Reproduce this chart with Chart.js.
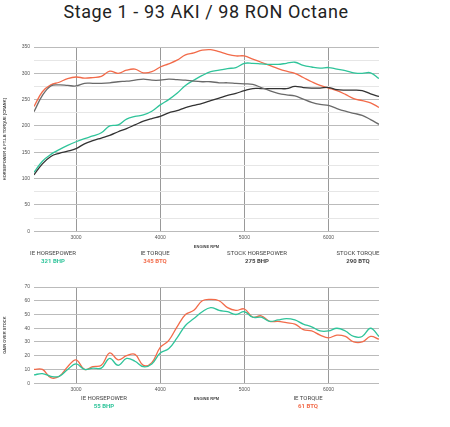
<!DOCTYPE html>
<html><head><meta charset="utf-8">
<script src="https://cdn.jsdelivr.net/npm/chart.js@4"></script>
<style>
body{margin:0;width:450px;height:427px;background:#fff;font-family:Roboto,sans-serif;position:relative;overflow:hidden}
#title{position:absolute;top:1px;left:0;width:412px;text-align:center;font-size:18px;color:#222;letter-spacing:0.6px}
.c{position:absolute;left:0;width:390px}
.lg{position:absolute;font-size:6px;color:#444;text-align:center;width:100px;line-height:8px}
.lg b{display:block;font-size:6px}
</style></head><body>
<div id="title">Stage 1 - 93 AKI / 98 RON Octane</div>
<div class="c" style="top:40px;height:210px"><canvas id="top"></canvas></div>
<div class="c" style="top:280px;height:122px"><canvas id="bot"></canvas></div>
<div class="lg" style="left:3px;top:249px">IE HORSEPOWER<b style="color:#2fc49a">321 BHP</b></div>
<div class="lg" style="left:105px;top:249px">IE TORQUE<b style="color:#f26b4a">345 BTQ</b></div>
<div class="lg" style="left:207px;top:249px">STOCK HORSEPOWER<b style="color:#444">275 BHP</b></div>
<div class="lg" style="left:308px;top:249px">STOCK TORQUE<b style="color:#444">290 BTQ</b></div>
<div class="lg" style="left:54px;top:394px">IE HORSEPOWER<b style="color:#2fc49a">55 BHP</b></div>
<div class="lg" style="left:258px;top:394px">IE TORQUE<b style="color:#f26b4a">61 BTQ</b></div>
<script>
const rpm = []
for (let r = 2500; r <= 6600; r += 100) rpm.push(r)

const ieTorque = [237,265,278,283,290,293,291,292,294,304,300,306,308,301,303,312,318,325,335,339,344,345,341,336,333,333,327,321,315,309,304,300,292,284,277,272,267,260,252,248,244,235]
const ieHp = [112,133,146,155,163,170,176,181,187,200,202,213,218,221,228,240,250,262,277,287,296,303,306,309,311,319,319,318,317,317,319,321,315,312,310,311,308,305,301,300,301,290]
const stockTorque = [227,258,276,278,277,276,281,281,281,282,284,285,287,289,287,287,289,288,287,285,284,284,282,282,281,280,279,273,267,262,259,257,251,245,241,239,233,228,224,220,212,203]
const stockHp = [107,128,142,148,152,157,166,172,177,182,189,195,202,209,214,218,225,229,235,239,243,248,253,258,262,267,271,271,271,271,271,275,273,272,272,273,269,268,268,267,261,256]
const gainHp = [6,7,5,5,10,14,10,11,11,18,13,18,16,12,14,22,25,33,42,47,52,55,53,52,50,52,48,48,45,46,47,46,43,41,38,38,40,38,34,34,40,34]
const gainTq = [10,10,4,5,12,17,10,12,13,22,17,20,21,13,15,26,31,41,50,53,60,61,60,55,53,54,48,49,45,45,44,43,39,38,35,33,35,34,30,30,34,32]
const xTicks = [3000,4000,5000,6000]

const pts = arr => arr.map((v, i) => ({x: rpm[i], y: v}))
const line = (data, color) => ({data: pts(data), borderColor: color, borderWidth: 1.3, pointRadius: 0, tension: 0.4, fill: false})

function makeChart(id, sets, yMax, yTitle){
  return new Chart(document.getElementById(id), {
    type: 'line',
    data: {datasets: sets},
    options: {
      animation: false, responsive: true, maintainAspectRatio: false,
      layout: {padding: {top: 4, right: 11, left: 0, bottom: 0}},
      plugins: {legend: {display: false}, tooltip: {enabled: false}},
      scales: {
        x: {
          type: 'linear', min: 2500, max: 6600,
          afterBuildTicks: ax => { ax.ticks = xTicks.map(v => ({value: v})) },
          grid: {color: '#999', lineWidth: 1, drawTicks: false},
          border: {display: false},
          ticks: {font: {size: 5}, color: '#555', padding: 3, callback: v => String(v)},
          title: {display: true, text: 'ENGINE RPM', font: {size: 4, weight: 'bold'}, color: '#444', padding: 1}
        },
        y: {
          min: 0, max: yMax,
          afterFit: ax => { ax.width = 34 },
          ticks: {stepSize: yMax > 100 ? 25 : 5, font: {size: 5}, color: '#555', padding: 4,
            callback: v => v % (yMax > 100 ? 50 : 10) === 0 ? v : ''},
          grid: {drawTicks: false, lineWidth: 1,
            color: c => c.tick.value % (yMax > 100 ? 50 : 10) === 0 ? '#bbb' : '#e6e6e6'},
          border: {display: false},
          title: {display: true, text: yTitle, font: {size: 4, weight: 'bold'}, color: '#444', padding: 2}
        }
      }
    }
  })
}

makeChart('top', [
  line(stockTorque, '#6a6a6a'),
  line(stockHp, '#333333'),
  line(ieHp, '#2fc49a'),
  line(ieTorque, '#f26b4a')
], 350, 'HORSEPOWER & FT-LB TORQUE [CRANK]')

makeChart('bot', [
  line(gainHp, '#2fc49a'),
  line(gainTq, '#f26b4a')
], 70, 'GAIN OVER STOCK')
</script>
</body></html>
